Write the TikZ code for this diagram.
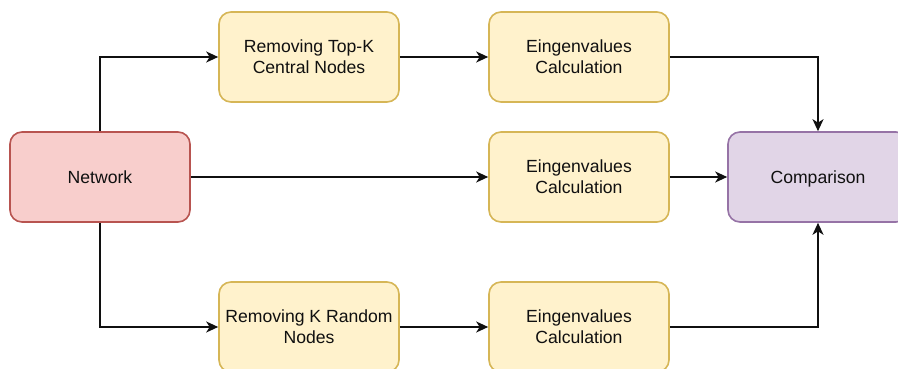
\documentclass[tikz,border=0pt]{standalone}
\usepackage{fontspec}
\setmainfont{Liberation Sans}
\usetikzlibrary{arrows.meta}

\definecolor{yfill}{HTML}{FFF2CC}
\definecolor{ydraw}{HTML}{D6B656}
\definecolor{rfill}{HTML}{F8CECC}
\definecolor{rdraw}{HTML}{B85450}
\definecolor{pfill}{HTML}{E1D5E7}
\definecolor{pdraw}{HTML}{9673A6}
\definecolor{ink}{HTML}{101010}

\tikzset{
  box/.style={rectangle, rounded corners=12pt, line width=1.6pt,
    minimum width=180pt, minimum height=90pt, inner sep=2pt,
    align=center, text=ink,
    font=\fontsize{17.6}{20.7}\selectfont},
  stagebox/.style={box, fill=yfill, draw=ydraw},
  sourcebox/.style={box, fill=rfill, draw=rdraw},
  resultbox/.style={box, fill=pfill, draw=pdraw, text depth=0pt},
  flow/.style={draw=ink, line width=2pt,
    -{Stealth[length=12pt, width=11pt, inset=3.5pt]}}
}

\begin{document}
\begin{tikzpicture}[x=1pt, y=-1pt]
  \useasboundingbox (0,0) rectangle (898,369);
  \fill[white] (0,0) rectangle (898,369);
  \clip (0,0) rectangle (898,369);

  % input graph
  \node[sourcebox] (net) at (100,177) {Network};

  % node-removal branches
  \node[stagebox] (topk) at (309,57) {Removing Top-K\\Central Nodes};
  \node[stagebox] (rnd) at (309,327) {Removing K Random\\Nodes};

  % spectrum of each variant
  \node[stagebox] (eig1) at (579,57) {Eingenvalues\\Calculation};
  \node[stagebox] (eig2) at (579,177) {Eingenvalues\\Calculation};
  \node[stagebox] (eig3) at (579,327) {Eingenvalues\\Calculation};

  \node[resultbox] (cmp) at (818,177) {Comparison};

  % connectors
  \draw[flow] (net.north) |- (topk.west);
  \draw[flow] (net.south) |- (rnd.west);
  \draw[flow] (net.east) -- (eig2.west);
  \draw[flow] (topk.east) -- (eig1.west);
  \draw[flow] (rnd.east) -- (eig3.west);
  \draw[flow] (eig1.east) -| (cmp.north);
  \draw[flow] (eig2.east) -- (cmp.west);
  \draw[flow] (eig3.east) -| (cmp.south);
\end{tikzpicture}
\end{document}
